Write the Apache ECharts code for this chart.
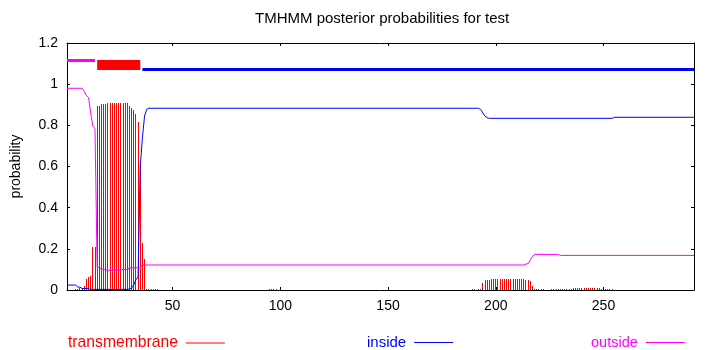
<!DOCTYPE html>
<html>
<head>
<meta charset="utf-8">
<script src="https://cdn.jsdelivr.net/npm/echarts/dist/echarts.min.js"></script>
<style>
html,body{margin:0;padding:0;background:#fff;}
#chart{width:710px;height:350px;}
</style>
</head>
<body>
<div id="chart"></div>
<script>
// ---- data ----
const titleText = 'TMHMM posterior probabilities for test';
const seqStart = 1;
const seqEnd = 292;
const xTickValues = [50, 100, 150, 200, 250];
const yTickValues = [0, 0.2, 0.4, 0.6, 0.8, 1, 1.2];

// topology segments [residue, level]
const topoOutside = [[1, 1.115], [14, 1.115]];
const topoTM = [[15, 1.0931], [35, 1.0931]];
const topoInside = [[36, 1.0713], [292, 1.0713]];

// posterior probability of transmembrane (impulses) [residue, prob]
const tmProb = [
  [5,0.005],[6,0.005],[7,0.008],[8,0.011],[9,0.021],[10,0.053],[11,0.063],[12,0.068],[13,0.209],[14,0.209],
  [15,0.894],[16,0.894],[17,0.904],[18,0.904],[19,0.906],[20,0.909],[21,0.909],[22,0.909],[23,0.909],[24,0.909],
  [25,0.909],[26,0.909],[27,0.909],[28,0.909],[29,0.909],[30,0.894],[31,0.883],[32,0.874],[33,0.855],[34,0.818],
  [35,0.616],[36,0.228],[37,0.15],[38,0.006],[39,0.006],[40,0.006],[41,0.006],[42,0.006],[43,0.005],
  [95,0.005],[96,0.005],[97,0.005],[98,0.005],
  [189,0.005],[190,0.005],[192,0.005],[193,0.005],[194,0.036],[195,0.049],[196,0.049],[197,0.049],
  [198,0.053],[199,0.053],[200,0.053],[201,0.053],[202,0.053],[203,0.053],[204,0.053],[205,0.053],
  [206,0.053],[207,0.053],[208,0.053],[209,0.053],[210,0.053],[211,0.053],[212,0.053],[213,0.053],
  [214,0.049],[215,0.049],[216,0.046],[217,0.02],
  [218,0.005],[219,0.005],[220,0.005],[221,0.005],[222,0.005],
  [226,0.005],[227,0.005],[228,0.005],[229,0.005],[230,0.005],
  [231,0.005],[232,0.005],[233,0.005],[234,0.005],[235,0.005],
  [236,0.01],[237,0.01],[238,0.01],[239,0.01],[240,0.01],[241,0.01],[242,0.01],[243,0.01],
  [244,0.01],[245,0.01],[246,0.01],[247,0.01],[248,0.01],[249,0.005],
  [251,0.005],[252,0.005],[253,0.005],[254,0.005]
];

// posterior probability of inside (polyline vertices) [residue, prob]
const insideProb = [
  [1,0.024],[5,0.024],[6,0.014],[7,0.014],[8,0.007],[11,0.007],[12,0.003],[29,0.003],[30,0.005],
  [31,0.01],[32,0.025],[33,0.05],[34,0.065],[35,0.6],[36,0.74],[37,0.845],[38,0.878],[39,0.883],
  [192,0.883],[193,0.877],[194,0.86],[195,0.845],[196,0.837],[197,0.834],[254,0.834],[255,0.839],[292,0.839]
];

// posterior probability of outside (polyline vertices) [residue, prob]
const outsideProb = [
  [1,0.98],[8,0.98],[9,0.965],[10,0.945],[11,0.935],[12,0.86],[13,0.795],[14,0.785],[15,0.11],[16,0.11],
  [17,0.101],[18,0.101],[19,0.096],[26,0.096],[27,0.1],[29,0.1],[30,0.108],[35,0.108],[36,0.1215],
  [213,0.1215],[214,0.126],[215,0.128],[216,0.145],[217,0.162],[218,0.173],[229,0.173],[230,0.168],[292,0.168]
];

const RED = '#ff0000', BLUE = '#0000ff', MAGENTA = '#ff00ff';
const FONT = 'Liberation Sans';

const chart = echarts.init(document.getElementById('chart'), null, {renderer: 'canvas'});

const axisLineStyle = {show: true, onZero: false, lineStyle: {color: '#000', width: 1}};

function legendFor(name, color, left, fontSize) {
  return {
    data: [name], left: left, top: 335, padding: 0, align: 'right',
    icon: 'rect', itemWidth: 39, itemHeight: 1, selectedMode: false,
    textStyle: {color: color, fontFamily: FONT, fontSize: fontSize, padding: [0, 3, 0, 0]}
  };
}

// impulse renderer: a 1px vertical stick from 0 to the value, positioned by the axes
function renderImpulse(params, api) {
  const base = api.coord([api.value(0), 0]);
  const top = api.coord([api.value(0), api.value(1)]);
  const x = Math.round(base[0] - 0.5);
  const yTop = Math.round(top[1]);
  const yBase = Math.round(base[1]);
  return {
    type: 'rect',
    shape: {x: x, y: yTop, width: 1, height: Math.max(1, yBase - yTop)},
    style: {fill: RED}
  };
}

chart.setOption({
  animation: false,
  backgroundColor: '#fff',
  title: {
    text: titleText, left: 255, top: 11, padding: 0,
    textStyle: {fontFamily: FONT, fontSize: 15, fontWeight: 'normal', color: '#000'}
  },
  legend: [
    legendFor('transmembrane', RED, 68, 15.7),
    legendFor('inside', BLUE, 367, 15),
    legendFor('outside', MAGENTA, 591, 14.5)
  ],
  grid: {left: 67, right: 16, top: 43, bottom: 60, containLabel: false},
  xAxis: [
    {
      type: 'value', min: seqStart, max: seqEnd, position: 'bottom',
      axisLine: axisLineStyle,
      axisTick: {show: true, inside: true, length: 3, customValues: xTickValues, lineStyle: {color: '#000'}},
      axisLabel: {show: true, customValues: xTickValues, margin: 9, color: '#000', fontFamily: FONT, fontSize: 14},
      splitLine: {show: false}
    },
    {
      type: 'value', min: seqStart, max: seqEnd, position: 'top',
      axisLine: axisLineStyle,
      axisTick: {show: true, inside: true, length: 3, customValues: xTickValues, lineStyle: {color: '#000'}},
      axisLabel: {show: false},
      splitLine: {show: false}
    }
  ],
  yAxis: [
    {
      type: 'value', min: 0, max: 1.2, interval: 0.2, position: 'left',
      name: 'probability', nameLocation: 'middle', nameRotate: 90, nameGap: 44,
      nameTextStyle: {fontFamily: FONT, fontSize: 14, color: '#000'},
      axisLine: axisLineStyle,
      axisTick: {show: true, inside: true, length: 3, customValues: yTickValues, lineStyle: {color: '#000'}},
      axisLabel: {show: true, margin: 9, color: '#000', fontFamily: FONT, fontSize: 14},
      splitLine: {show: false}
    },
    {
      type: 'value', min: 0, max: 1.2, interval: 0.2, position: 'right',
      axisLine: axisLineStyle,
      axisTick: {show: true, inside: true, length: 3, lineStyle: {color: '#000'}},
      axisLabel: {show: false},
      splitLine: {show: false}
    }
  ],
  series: [
    {
      name: 'transmembrane', type: 'custom', xAxisIndex: 0, yAxisIndex: 0,
      data: tmProb, renderItem: renderImpulse, encode: {x: 0, y: 1},
      itemStyle: {color: RED}, z: 2, silent: true, clip: true
    },
    {
      name: 'inside', type: 'line', data: insideProb, symbol: 'none', color: BLUE,
      itemStyle: {color: BLUE}, lineStyle: {color: BLUE, width: 1}, z: 3, silent: true
    },
    {
      name: 'outside', type: 'line', data: outsideProb, symbol: 'none', color: MAGENTA,
      itemStyle: {color: MAGENTA}, lineStyle: {color: MAGENTA, width: 1}, z: 4, silent: true
    },
    {
      name: 'topo-outside', type: 'line', data: topoOutside, symbol: 'none',
      lineStyle: {color: MAGENTA, width: 3, cap: 'butt'}, z: 5, silent: true
    },
    {
      name: 'topo-tm', type: 'line', data: topoTM, symbol: 'none',
      lineStyle: {color: RED, width: 10, cap: 'butt'}, z: 5, silent: true
    },
    {
      name: 'topo-inside', type: 'line', data: topoInside, symbol: 'none',
      lineStyle: {color: BLUE, width: 3, cap: 'butt'}, z: 5, silent: true
    }
  ]
});
</script>
</body>
</html>
